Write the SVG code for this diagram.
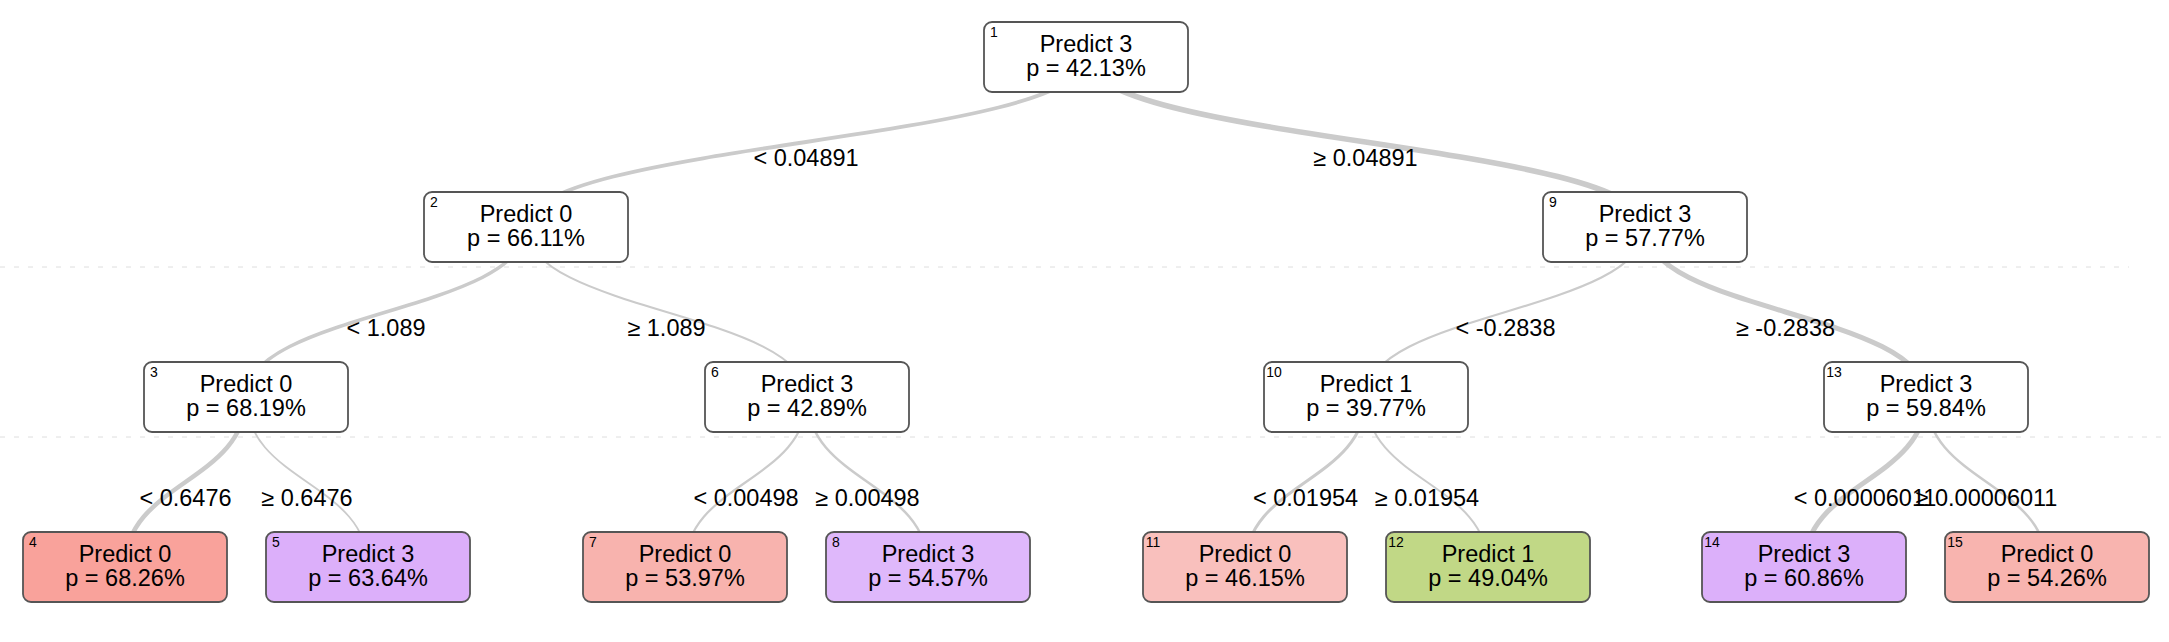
<svg xmlns="http://www.w3.org/2000/svg" width="2169" height="642" viewBox="0 0 2169 642">
<style>
  .bg { fill: #ffffff; }
  .box { stroke: #555555; stroke-width: 1.8; }
  .inner { fill: #ffffff; }
  .t { font-family: "Liberation Sans", Arial, Helvetica, sans-serif; font-size: 23.5px; fill: #000000; text-anchor: middle; }
  .num { font-family: "Liberation Sans", Arial, Helvetica, sans-serif; font-size: 14px; fill: #000000; text-anchor: middle; }
  .edge { fill: none; stroke: #cbcbcb; stroke-linecap: butt; }
  .lbl { font-family: "Liberation Sans", Arial, Helvetica, sans-serif; font-size: 23.5px; fill: #000000; text-anchor: middle; }
  .faint { stroke: #c4c4c4; stroke-width: 1; stroke-dasharray: 5 9; opacity: 0.55; }
</style>
<rect class="bg" x="0" y="0" width="2169" height="642"/>
<g id="artifacts">
  <line class="faint" x1="0" y1="267" x2="2129" y2="267"/>
  <line class="faint" x1="0" y1="437" x2="2169" y2="437"/>
</g>
<g id="connectors">
  <path class="edge" stroke-width="3.8" d="M1086 57 C1086 142 526 142 526 227"/>
  <path class="edge" stroke-width="5.5" d="M1086 57 C1086 142 1645 142 1645 227"/>
  <path class="edge" stroke-width="3.5" d="M526 227 C526 312 246 312 246 397"/>
  <path class="edge" stroke-width="2" d="M526 227 C526 312 807 312 807 397"/>
  <path class="edge" stroke-width="2.2" d="M1645 227 C1645 312 1366 312 1366 397"/>
  <path class="edge" stroke-width="5" d="M1645 227 C1645 312 1926 312 1926 397"/>
  <path class="edge" stroke-width="4.5" d="M246 397 C246 482 125 482 125 567"/>
  <path class="edge" stroke-width="1.8" d="M246 397 C246 482 368 482 368 567"/>
  <path class="edge" stroke-width="2.2" d="M807 397 C807 482 685 482 685 567"/>
  <path class="edge" stroke-width="2.5" d="M807 397 C807 482 928 482 928 567"/>
  <path class="edge" stroke-width="3" d="M1366 397 C1366 482 1245 482 1245 567"/>
  <path class="edge" stroke-width="2" d="M1366 397 C1366 482 1488 482 1488 567"/>
  <path class="edge" stroke-width="5" d="M1926 397 C1926 482 1804 482 1804 567"/>
  <path class="edge" stroke-width="2.5" d="M1926 397 C1926 482 2047 482 2047 567"/>
  <text class="lbl" x="806" y="166">&lt; 0.04891</text>
  <text class="lbl" x="1365.5" y="166">≥ 0.04891</text>
  <text class="lbl" x="386" y="336">&lt; 1.089</text>
  <text class="lbl" x="666.5" y="336">≥ 1.089</text>
  <text class="lbl" x="1505.5" y="336">&lt; -0.2838</text>
  <text class="lbl" x="1785.5" y="336">≥ -0.2838</text>
  <text class="lbl" x="185.5" y="506">&lt; 0.6476</text>
  <text class="lbl" x="307" y="506">≥ 0.6476</text>
  <text class="lbl" x="746" y="506">&lt; 0.00498</text>
  <text class="lbl" x="867.5" y="506">≥ 0.00498</text>
  <text class="lbl" x="1305.5" y="506">&lt; 0.01954</text>
  <text class="lbl" x="1427" y="506">≥ 0.01954</text>
  <text class="lbl" x="1865" y="506">&lt; 0.00006011</text>
  <text class="lbl" x="1986.5" y="506">≥ 0.00006011</text>
</g>
<g id="node1"><rect class="box inner" x="984" y="22" width="204" height="70" rx="8"/><text class="num" x="994" y="37">1</text><text class="t" x="1086" y="52">Predict 3</text><text class="t" x="1086" y="76">p = 42.13%</text></g>
<g id="node2"><rect class="box inner" x="424" y="192" width="204" height="70" rx="8"/><text class="num" x="434" y="207">2</text><text class="t" x="526" y="222">Predict 0</text><text class="t" x="526" y="246">p = 66.11%</text></g>
<g id="node9"><rect class="box inner" x="1543" y="192" width="204" height="70" rx="8"/><text class="num" x="1553" y="207">9</text><text class="t" x="1645" y="222">Predict 3</text><text class="t" x="1645" y="246">p = 57.77%</text></g>
<g id="node3"><rect class="box inner" x="144" y="362" width="204" height="70" rx="8"/><text class="num" x="154" y="377">3</text><text class="t" x="246" y="392">Predict 0</text><text class="t" x="246" y="416">p = 68.19%</text></g>
<g id="node6"><rect class="box inner" x="705" y="362" width="204" height="70" rx="8"/><text class="num" x="715" y="377">6</text><text class="t" x="807" y="392">Predict 3</text><text class="t" x="807" y="416">p = 42.89%</text></g>
<g id="node10"><rect class="box inner" x="1264" y="362" width="204" height="70" rx="8"/><text class="num" x="1274" y="377">10</text><text class="t" x="1366" y="392">Predict 1</text><text class="t" x="1366" y="416">p = 39.77%</text></g>
<g id="node13"><rect class="box inner" x="1824" y="362" width="204" height="70" rx="8"/><text class="num" x="1834" y="377">13</text><text class="t" x="1926" y="392">Predict 3</text><text class="t" x="1926" y="416">p = 59.84%</text></g>
<g id="node4"><rect class="box" fill="#f9a29b" x="23" y="532" width="204" height="70" rx="8"/><text class="num" x="33" y="547">4</text><text class="t" x="125" y="562">Predict 0</text><text class="t" x="125" y="586">p = 68.26%</text></g>
<g id="node5"><rect class="box" fill="#dcaffa" x="266" y="532" width="204" height="70" rx="8"/><text class="num" x="276" y="547">5</text><text class="t" x="368" y="562">Predict 3</text><text class="t" x="368" y="586">p = 63.64%</text></g>
<g id="node7"><rect class="box" fill="#f8b3ae" x="583" y="532" width="204" height="70" rx="8"/><text class="num" x="593" y="547">7</text><text class="t" x="685" y="562">Predict 0</text><text class="t" x="685" y="586">p = 53.97%</text></g>
<g id="node8"><rect class="box" fill="#dfb8fb" x="826" y="532" width="204" height="70" rx="8"/><text class="num" x="836" y="547">8</text><text class="t" x="928" y="562">Predict 3</text><text class="t" x="928" y="586">p = 54.57%</text></g>
<g id="node11"><rect class="box" fill="#f9c0bd" x="1143" y="532" width="204" height="70" rx="8"/><text class="num" x="1153" y="547">11</text><text class="t" x="1245" y="562">Predict 0</text><text class="t" x="1245" y="586">p = 46.15%</text></g>
<g id="node12"><rect class="box" fill="#c1d886" x="1386" y="532" width="204" height="70" rx="8"/><text class="num" x="1396" y="547">12</text><text class="t" x="1488" y="562">Predict 1</text><text class="t" x="1488" y="586">p = 49.04%</text></g>
<g id="node14"><rect class="box" fill="#dcb0fa" x="1702" y="532" width="204" height="70" rx="8"/><text class="num" x="1712" y="547">14</text><text class="t" x="1804" y="562">Predict 3</text><text class="t" x="1804" y="586">p = 60.86%</text></g>
<g id="node15"><rect class="box" fill="#f8b4af" x="1945" y="532" width="204" height="70" rx="8"/><text class="num" x="1955" y="547">15</text><text class="t" x="2047" y="562">Predict 0</text><text class="t" x="2047" y="586">p = 54.26%</text></g>
</svg>
